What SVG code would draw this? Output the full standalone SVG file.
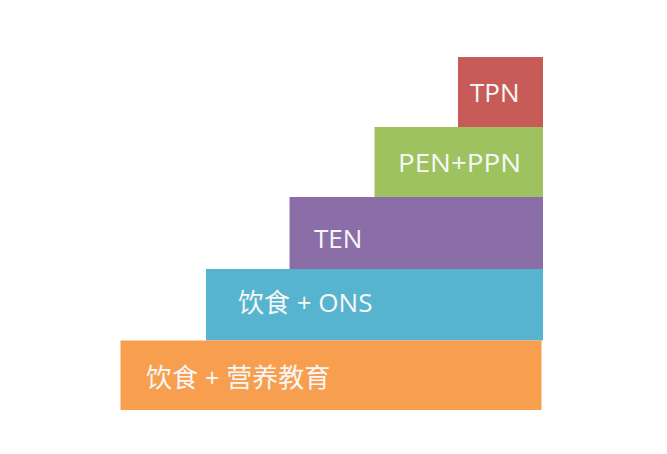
<svg xmlns="http://www.w3.org/2000/svg" width="667" height="454" viewBox="0 0 667 454">
<style>
text{font-family:"Open Sans","Noto Sans CJK SC",sans-serif;font-size:26px;fill:#f7f7f7}
</style>
<rect width="667" height="454" fill="#ffffff"/>
<g id="tpn"><rect x="458" y="57" width="85" height="70.5" fill="#c75b58"/><text x="470" y="102">TPN</text></g>
<g id="pen-ppn"><rect x="374.5" y="127" width="168.5" height="70.5" fill="#9dc25f"/><text x="398" y="171.5" textLength="123" lengthAdjust="spacingAndGlyphs">PEN+PPN</text></g>
<g id="ten"><rect x="289.5" y="197" width="253.5" height="72.5" fill="#8b6ea8"/><text x="314" y="248">TEN</text></g>
<g id="ons"><rect x="206" y="269" width="337" height="71.5" fill="#56b4cf"/><text x="238" y="311.5">饮食 + ONS</text></g>
<g id="diet-edu"><rect x="120.5" y="340.5" width="421" height="69.5" fill="#f89e4f"/><text x="146" y="386.5">饮食 + 营养教育</text></g>
<g id="connectors"/>
</svg>
